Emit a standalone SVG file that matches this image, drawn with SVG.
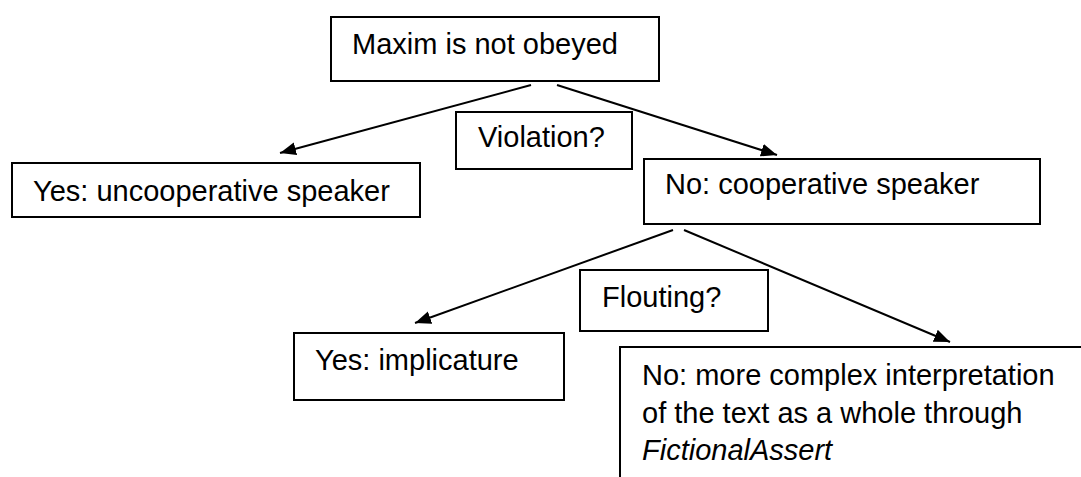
<svg xmlns="http://www.w3.org/2000/svg" width="1081" height="477" viewBox="0 0 1081 477">
<style>
.box{fill:#fff;stroke:#000;stroke-width:2}
.t{font-family:"Liberation Sans",Arial,sans-serif;font-size:29px;fill:#000}
.c{stroke:#000;stroke-width:2;fill:none;marker-end:url(#ah)}
</style>
<defs>
<marker id="ah" markerUnits="userSpaceOnUse" markerWidth="18" markerHeight="14" refX="16" refY="6.5" orient="auto">
<path d="M0,0 L16,6.5 L0,13 z" fill="#000"/>
</marker>
</defs>
<rect width="1081" height="477" fill="#fff"/>
<g id="connectors">
<line class="c" x1="531" y1="85" x2="280" y2="153"/>
<line class="c" x1="557" y1="85" x2="777" y2="155"/>
<line class="c" x1="673" y1="230" x2="415" y2="323"/>
<line class="c" x1="684" y1="230" x2="950" y2="342"/>
</g>
<g id="root">
<rect class="box" x="331" y="17" width="328" height="64"/>
<text class="t" x="352" y="54">Maxim is not obeyed</text>
</g>
<g id="violation">
<rect class="box" x="456" y="112" width="176" height="57"/>
<text class="t" x="478" y="147">Violation?</text>
</g>
<g id="uncooperative">
<rect class="box" x="12" y="163" width="408" height="54"/>
<text class="t" x="33" y="201">Yes: uncooperative speaker</text>
</g>
<g id="cooperative">
<rect class="box" x="644" y="159" width="396" height="65"/>
<text class="t" x="665" y="194">No: cooperative speaker</text>
</g>
<g id="flouting">
<rect class="box" x="580" y="270" width="188" height="61"/>
<text class="t" x="602" y="307">Flouting?</text>
</g>
<g id="implicature">
<rect class="box" x="294" y="333" width="270" height="67"/>
<text class="t" x="315" y="370">Yes: implicature</text>
</g>
<g id="complex">
<rect class="box" x="620" y="347" width="470" height="140"/>
<text class="t" x="642" y="385">No: more complex interpretation</text>
<text class="t" x="642" y="423">of the text as a whole through</text>
<text class="t" x="642" y="460" font-style="italic">FictionalAssert</text>
</g>
</svg>
